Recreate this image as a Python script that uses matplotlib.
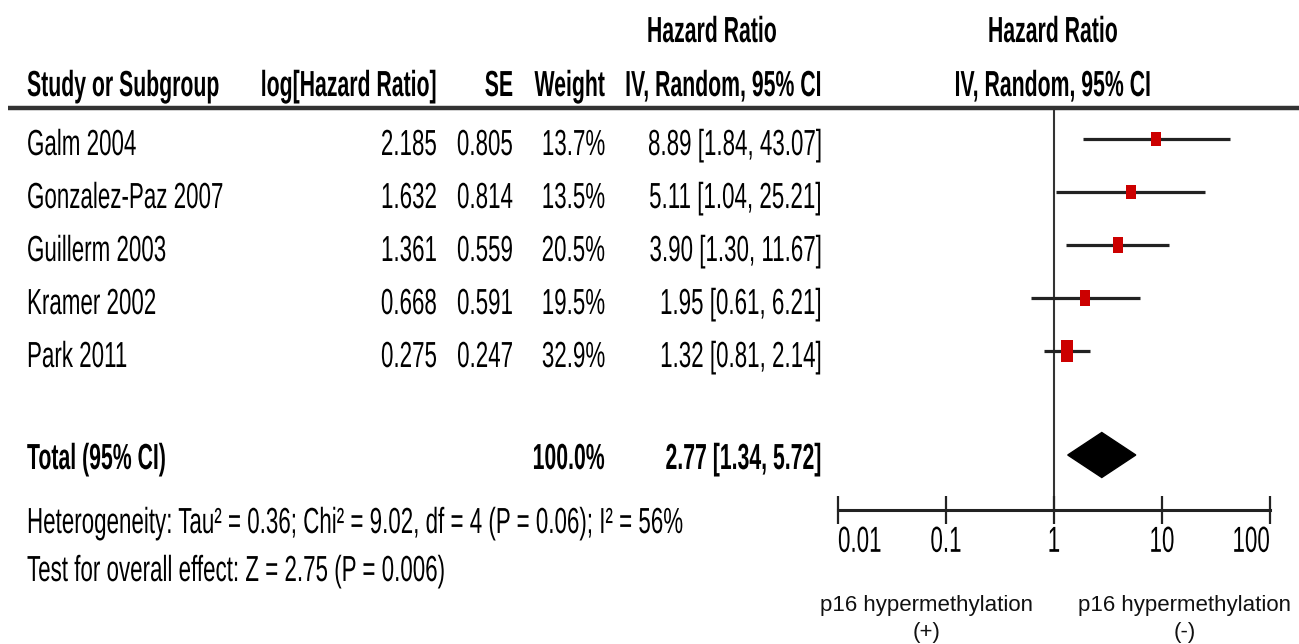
import matplotlib
matplotlib.use('Agg')
import matplotlib.pyplot as plt
from matplotlib import font_manager as fm
from matplotlib.patheffects import AbstractPathEffect
from matplotlib.transforms import Affine2D
from matplotlib.path import Path
from matplotlib.ticker import NullLocator

# ---------------- data ----------------
studies = ["Galm 2004", "Gonzalez-Paz 2007", "Guillerm 2003", "Kramer 2002", "Park 2011"]
log_hr = ["2.185", "1.632", "1.361", "0.668", "0.275"]
se = ["0.805", "0.814", "0.559", "0.591", "0.247"]
weight = [13.7, 13.5, 20.5, 19.5, 32.9]
hr = [8.89, 5.11, 3.90, 1.95, 1.32]
ci_low = [1.84, 1.04, 1.30, 0.61, 0.81]
ci_high = [43.07, 25.21, 11.67, 6.21, 2.14]

total_label = "Total (95% CI)"
total_weight = 100.0
total_hr = 2.77
total_low = 1.34
total_high = 5.72

heterogeneity = "Heterogeneity: Tau\u00b2 = 0.36; Chi\u00b2 = 9.02, df = 4 (P = 0.06); I\u00b2 = 56%"
overall = "Test for overall effect: Z = 2.75 (P = 0.006)"

tick_values = [0.01, 0.1, 1, 10, 100]
tick_labels = ["0.01", "0.1", "1", "10", "100"]
favours_left = "p16 hypermethylation\n(+)"
favours_right = "p16 hypermethylation\n(-)"

# ---------------- fonts ----------------
names = {f.name for f in fm.fontManager.ttflist}
if 'Liberation Sans Narrow' in names:
    COND, FS, SY = 'Liberation Sans Narrow', 19.6, 1.33
else:
    COND, FS, SY = 'Liberation Sans', 16.1, 1.62
FSB = FS * 0.95
SYB = SY / 0.95


class VStretch(AbstractPathEffect):
    """Stretch glyphs vertically about the middle of the cap height."""
    def __init__(self, sy, y0=36.0):
        super().__init__()
        self._sy = sy
        self._y0 = y0

    def draw_path(self, renderer, gc, tpath, affine, rgbFace=None):
        t = (Affine2D().translate(0, -self._y0).scale(1, self._sy)
             .translate(0, self._y0) + affine)
        renderer.draw_path(gc, tpath, t, rgbFace)


PE = [VStretch(SY)]
PEB = [VStretch(SYB)]

W, H = 1299, 644
fig = plt.figure(figsize=(W / 100, H / 100), dpi=100)
bg = fig.add_axes([0, 0, 1, 1])
bg.set_xlim(0, W)
bg.set_ylim(H, 0)
bg.axis('off')


def txt(x, yc, s, ha='left', bold=False):
    fs = FSB if bold else FS
    cap = 0.716 * fs * 100 / 72
    bg.text(x, yc + cap / 2, s, ha=ha, va='baseline', fontsize=fs, family=COND,
            fontweight='bold' if bold else 'normal', color='black',
            path_effects=PEB if bold else PE)


# layout
row_y = [139, 192, 245, 298, 351]
text_dy = 3
total_y = 455
x_name, x_loghr, x_se, x_w, x_ci = 27, 437, 513, 605, 822

# headers
txt(712, 29, "Hazard Ratio", ha='center', bold=True)
txt(1053, 29, "Hazard Ratio", ha='center', bold=True)
txt(x_name, 83, "Study or Subgroup", bold=True)
txt(x_loghr, 83, "log[Hazard Ratio]", ha='right', bold=True)
txt(x_se, 83, "SE", ha='right', bold=True)
txt(x_w, 83, "Weight", ha='right', bold=True)
txt(x_ci, 83, "IV, Random, 95% CI", ha='right', bold=True)
txt(1053, 83, "IV, Random, 95% CI", ha='center', bold=True)
bg.plot([8, W], [108, 108], color='#333333', lw=3.2, solid_capstyle='butt')

for i, name in enumerate(studies):
    y = row_y[i] + text_dy
    txt(x_name, y, name)
    txt(x_loghr, y, log_hr[i], ha='right')
    txt(x_se, y, se[i], ha='right')
    txt(x_w, y, f"{weight[i]:.1f}%", ha='right')
    txt(x_ci, y, f"{hr[i]:.2f} [{ci_low[i]:.2f}, {ci_high[i]:.2f}]", ha='right')

txt(x_name, total_y + 1, total_label, bold=True)
txt(x_w, total_y + 1, f"{total_weight:.1f}%", ha='right', bold=True)
txt(x_ci, total_y + 1, f"{total_hr:.2f} [{total_low:.2f}, {total_high:.2f}]", ha='right', bold=True)
txt(x_name, 520, heterogeneity)
txt(x_name, 568, overall)

bg.text(927, 595, favours_left, ha='center', va='top', fontsize=16,
        family='Liberation Sans', linespacing=1.4, color='#111111')
bg.text(1185, 595, favours_right, ha='center', va='top', fontsize=16,
        family='Liberation Sans', linespacing=1.4, color='#111111')

# ---------------- forest panel ----------------
x0, x1, ytop, ybot = 838, 1270, 108, 510
fx = fig.add_axes([x0 / W, 1 - ybot / H, (x1 - x0) / W, (ybot - ytop) / H])
fx.patch.set_visible(False)
fx.set_xscale('log')
fx.set_xlim(tick_values[0], tick_values[-1])
fx.set_ylim(ybot, ytop)
for s in ['top', 'right', 'left']:
    fx.spines[s].set_visible(False)
fx.spines['bottom'].set_linewidth(2.2)
fx.spines['bottom'].set_color('#222222')
fx.set_yticks([])
fx.set_xticks(tick_values)
fx.set_xticklabels(tick_labels)
fx.xaxis.set_minor_locator(NullLocator())
fx.tick_params(axis='x', direction='inout', length=20, width=1.6, color='#222222',
               pad=5, labelsize=FS)
labs = fx.get_xticklabels()
for lab in labs:
    lab.set_family(COND)
    lab.set_path_effects(PE)
labs[0].set_ha('left')
labs[-1].set_ha('right')

fx.axvline(1, color='#333333', lw=1.5, zorder=1)
fx.hlines(row_y, ci_low, ci_high, color='#222222', lw=2.3, zorder=2)
for i in range(len(studies)):
    h_px = 6.8 + 0.49 * weight[i]
    w_px = 6 + 0.25 * h_px
    a = w_px / h_px
    box = Path([(-a / 2, -0.5), (a / 2, -0.5), (a / 2, 0.5), (-a / 2, 0.5), (-a / 2, -0.5)],
               [Path.MOVETO, Path.LINETO, Path.LINETO, Path.LINETO, Path.CLOSEPOLY])
    fx.plot([hr[i]], [row_y[i]], marker=box, markersize=h_px * 0.72,
            color='#cc0000', markeredgewidth=0, linestyle='none', zorder=3)

dh = 22.5
fx.fill([total_low, total_hr, total_high, total_hr],
        [total_y, total_y - dh, total_y, total_y + dh], color='black', zorder=3)

fig.savefig('out.png', dpi=100)
